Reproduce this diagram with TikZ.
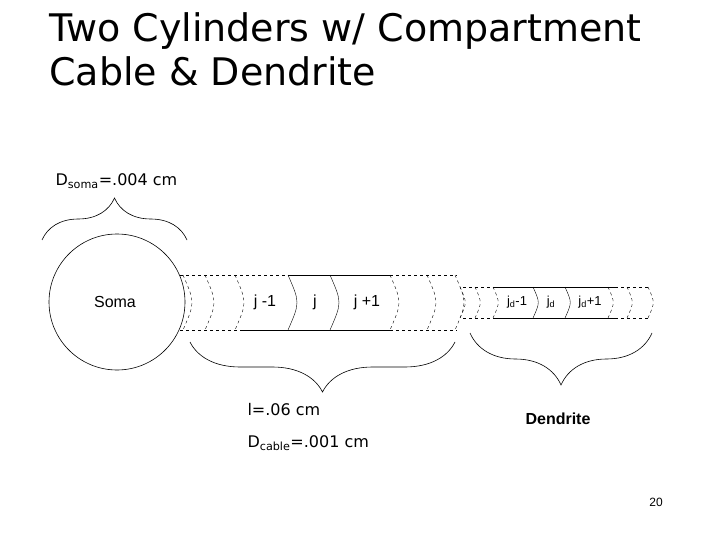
\documentclass[tikz,border=0pt]{standalone}
\usepackage{fontspec}
\setmainfont{DejaVu Sans}
\newfontfamily\arial{Liberation Sans}
\usetikzlibrary{decorations.pathreplacing}
\begin{document}
\begin{tikzpicture}[x=1pt,y=-1pt,
  chev/.style={line width=0.6pt},
  brc/.style={decorate,decoration={brace,amplitude=#1},line width=0.6pt},
  lab/.style={font=\arial\fontsize{16}{18}\selectfont}]
\useasboundingbox[fill=white] (0,0) rectangle (720,540);
\node[anchor=north west,align=left,inner sep=0,font=\fontsize{38}{44}\selectfont] (title) at (49,12) {Two Cylinders w/ Compartment\\Cable \& Dendrite};
% soma
\draw[line width=0.6pt] (117,302) circle (68);
\node[lab] (soma) at (115,302) {Soma};
% cable
\def\ct{275}\def\cb{330}\def\cm{302.5}
\draw[dashed] (180,\ct) -- (290,\ct) (180,\cb) -- (290,\cb);
\draw (290,\ct) -- (390,\ct) (240,\cb) -- (390,\cb);
\draw[dashed] (390,\ct) -- (457,\ct) (390,\cb) -- (457,\cb);
\foreach \x/\s in {183/dashed,205/dashed,235/dashed,288/solid,330/solid,390/dashed,427/dashed,455/dashed}
  \draw[\s] (\x,\ct) .. controls (\x+12,\cm) .. (\x,\cb);
\node[lab] (jm) at (265,302) {j -1};
\node[lab] (j) at (315,302) {j};
\node[lab] (jp) at (367,302) {j +1};
% dendrite
\def\dt{287}\def\db{318}\def\dm{302.5}
\draw[dashed] (463,\dt) -- (493,\dt) (463,\db) -- (493,\db) (615,\dt) -- (648,\dt) (615,\db) -- (648,\db);
\draw (493,\dt) -- (615,\dt) (493,\db) -- (615,\db);
\foreach \x/\s in {460/dashed,475/dashed,493/dashed,533/solid,565/solid,608/dashed,627/dashed,648/dashed}
  \draw[\s] (\x,\dt) .. controls (\x+7,\dm) .. (\x,\db);
\node[font=\arial\fontsize{13}{15}\selectfont] (jd1) at (517,302) {j\textsubscript{d}-1};
\node[font=\arial\fontsize{13}{15}\selectfont] (jd) at (551,302) {j\textsubscript{d}};
\node[font=\arial\fontsize{13}{15}\selectfont] (jd2) at (590,302) {j\textsubscript{d}+1};
% braces
\draw[brc=42pt] (42,240) -- (187,240);
\draw[brc=50pt] (455,342) -- (190,342);
\draw[brc=52pt] (652,333) -- (470,333);
\node[anchor=west,font=\fontsize{16}{18}\selectfont] (ds) at (52,181) {D\textsubscript{soma}=.004 cm};
\node[anchor=west,font=\fontsize{16}{18}\selectfont] (l) at (244,410) {l=.06 cm};
\node[anchor=west,font=\fontsize{16}{18}\selectfont] (dc) at (244,443) {D\textsubscript{cable}=.001 cm};
\node[font=\arial\bfseries\fontsize{16}{18}\selectfont] (den) at (558,419) {Dendrite};
\node[font=\arial\fontsize{12}{14}\selectfont] (pg) at (656,502) {20};
\end{tikzpicture}
\end{document}
